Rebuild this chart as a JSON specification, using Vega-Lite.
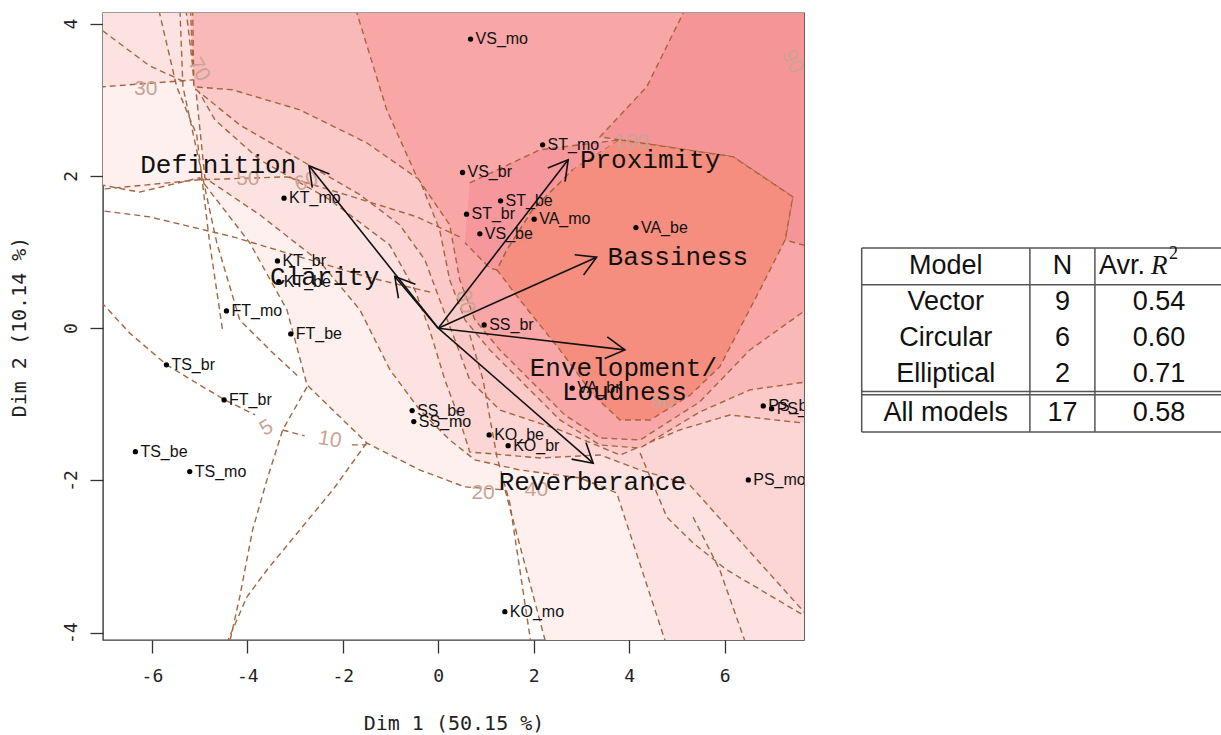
{
 "$schema": "https://vega.github.io/schema/vega-lite/v6.json",
 "width": 701,
 "height": 627,
 "autosize": {"type": "none"},
 "padding": {"left": 103, "top": 13, "right": 417, "bottom": 95},
 "background": "white",
 "config": {"view": {"stroke": "#3a3a3a", "strokeWidth": 1.4}},
 "datasets": {
  "L1": [{"i":0,"x":-7.30,"y":1.909},{"i":1,"x":-6.26,"y":1.787},{"i":2,"x":-5.00,"y":1.975},{"i":3,"x":-3.95,"y":1.121},{"i":4,"x":-3.17,"y":0.240},{"i":5,"x":-2.75,"y":-0.745},{"i":6,"x":-1.50,"y":-1.507},{"i":7,"x":-0.39,"y":-1.862},{"i":8,"x":0.56,"y":-2.085},{"i":9,"x":1.40,"y":-2.124},{"i":10,"x":2.32,"y":-4.29},{"i":11,"x":8.1,"y":-4.4},{"i":12,"x":8.1,"y":4.4},{"i":13,"x":-7.4,"y":4.4}],
  "L2": [{"i":0,"x":-7.30,"y":3.157},{"i":1,"x":-5.10,"y":3.263},{"i":2,"x":-4.89,"y":1.975},{"i":3,"x":-3.74,"y":1.489},{"i":4,"x":-2.48,"y":0.871},{"i":5,"x":-1.64,"y":0.240},{"i":6,"x":-1.01,"y":-0.548},{"i":7,"x":-0.39,"y":-1.073},{"i":8,"x":0.24,"y":-1.468},{"i":9,"x":0.77,"y":-1.731},{"i":10,"x":1.71,"y":-1.862},{"i":11,"x":2.97,"y":-1.967},{"i":12,"x":3.74,"y":-2.164},{"i":13,"x":4.85,"y":-4.29},{"i":14,"x":8.1,"y":-4.4},{"i":15,"x":8.1,"y":4.4},{"i":16,"x":-7.4,"y":4.4}],
  "L3": [{"i":0,"x":-5.31,"y":4.314},{"i":1,"x":-5.10,"y":3.197},{"i":2,"x":-4.68,"y":2.737},{"i":3,"x":-3.74,"y":2.212},{"i":4,"x":-2.27,"y":1.686},{"i":5,"x":-1.02,"y":1.095},{"i":6,"x":-0.49,"y":0.503},{"i":7,"x":-0.18,"y":-0.022},{"i":8,"x":0.14,"y":-0.681},{"i":9,"x":0.45,"y":-1.206},{"i":10,"x":0.66,"y":-1.626},{"i":11,"x":2.13,"y":-1.705},{"i":12,"x":3.39,"y":-1.665},{"i":13,"x":4.23,"y":-1.862},{"i":14,"x":5.27,"y":-2.059},{"i":15,"x":8.0,"y":-3.96},{"i":16,"x":8.1,"y":4.4}],
  "L4": [{"i":0,"x":-5.20,"y":4.314},{"i":1,"x":-5.12,"y":3.157},{"i":2,"x":-4.16,"y":2.671},{"i":3,"x":-2.90,"y":2.212},{"i":4,"x":-1.64,"y":1.752},{"i":5,"x":-0.81,"y":1.358},{"i":6,"x":-0.28,"y":0.898},{"i":7,"x":0.03,"y":0.372},{"i":8,"x":0.35,"y":-0.154},{"i":9,"x":0.66,"y":-0.680},{"i":10,"x":1.29,"y":-1.075},{"i":11,"x":2.55,"y":-1.338},{"i":12,"x":3.81,"y":-1.666},{"i":13,"x":5.06,"y":-1.337},{"i":14,"x":6.11,"y":-1.140},{"i":15,"x":8.0,"y":-1.27},{"i":16,"x":8.1,"y":4.4}],
  "L5": [{"i":0,"x":-5.15,"y":4.314},{"i":1,"x":-5.12,"y":3.171},{"i":2,"x":-4.31,"y":3.131},{"i":3,"x":-2.90,"y":2.868},{"i":4,"x":-1.50,"y":2.435},{"i":5,"x":-0.39,"y":1.949},{"i":6,"x":0.03,"y":1.292},{"i":7,"x":0.24,"y":0.635},{"i":8,"x":0.56,"y":0.109},{"i":9,"x":1.08,"y":-0.285},{"i":10,"x":1.71,"y":-0.679},{"i":11,"x":2.55,"y":-1.205},{"i":12,"x":3.39,"y":-1.535},{"i":13,"x":4.23,"y":-1.574},{"i":14,"x":5.48,"y":-1.101},{"i":15,"x":6.53,"y":-0.811},{"i":16,"x":8.0,"y":-0.68},{"i":17,"x":8.1,"y":4.4}],
  "L6": [{"i":0,"x":-1.79,"y":4.314},{"i":1,"x":-1.08,"y":2.868},{"i":2,"x":-0.45,"y":1.988},{"i":3,"x":0.24,"y":1.357},{"i":4,"x":0.45,"y":0.635},{"i":5,"x":0.77,"y":0.109},{"i":6,"x":1.29,"y":-0.285},{"i":7,"x":1.92,"y":-0.679},{"i":8,"x":2.65,"y":-1.139},{"i":9,"x":3.39,"y":-1.442},{"i":10,"x":4.23,"y":-1.469},{"i":11,"x":5.48,"y":-0.968},{"i":12,"x":6.53,"y":-0.286},{"i":13,"x":8.0,"y":0.372},{"i":14,"x":8.1,"y":4.4}],
  "TR": [{"i":0,"x":5.27,"y":4.314},{"i":1,"x":4.37,"y":3.171},{"i":2,"x":3.39,"y":2.514},{"i":3,"x":3.81,"y":2.474},{"i":4,"x":6.18,"y":2.251},{"i":5,"x":7.43,"y":1.725},{"i":6,"x":7.27,"y":1.160},{"i":7,"x":8.0,"y":1.029},{"i":8,"x":8.1,"y":4.4}],
  "ST": [{"i":0,"x":0.66,"y":1.909},{"i":1,"x":2.13,"y":2.343},{"i":2,"x":3.81,"y":2.474},{"i":3,"x":2.82,"y":2.081},{"i":4,"x":1.98,"y":1.555},{"i":5,"x":1.44,"y":1.029},{"i":6,"x":1.23,"y":0.766},{"i":7,"x":1.08,"y":0.790},{"i":8,"x":0.56,"y":1.121}],
  "SAL": [{"i":0,"x":3.81,"y":2.474},{"i":1,"x":6.18,"y":2.251},{"i":2,"x":7.43,"y":1.725},{"i":3,"x":7.27,"y":1.160},{"i":4,"x":6.74,"y":0.503},{"i":5,"x":5.90,"y":-0.508},{"i":6,"x":5.27,"y":-0.883},{"i":7,"x":4.44,"y":-1.207},{"i":8,"x":3.81,"y":-1.207},{"i":9,"x":3.25,"y":-0.877},{"i":10,"x":2.55,"y":-0.285},{"i":11,"x":1.71,"y":0.372},{"i":12,"x":1.23,"y":0.766},{"i":13,"x":1.44,"y":1.029},{"i":14,"x":1.98,"y":1.555},{"i":15,"x":2.82,"y":2.081}],
  "dl": [
   {"g":"d1","i":0,"x":-7.20,"y":3.986},{"g":"d1","i":1,"x":-6.05,"y":3.446},{"g":"d1","i":2,"x":-5.27,"y":3.223},
   {"g":"d2","i":0,"x":-5.90,"y":4.3},{"g":"d2","i":1,"x":-5.48,"y":3.170},{"g":"d2","i":2,"x":-5.06,"y":2.534},{"g":"d2","i":3,"x":-4.79,"y":1.121},{"g":"d2","i":4,"x":-4.52,"y":-0.022},
   {"g":"d3","i":0,"x":-5.42,"y":4.3},{"g":"d3","i":1,"x":-5.35,"y":3.170},{"g":"d3","i":2,"x":-4.94,"y":1.988},{"g":"d3","i":3,"x":-4.64,"y":1.121},{"g":"d3","i":4,"x":-4.16,"y":0.109},{"g":"d3","i":5,"x":-3.53,"y":-0.286},{"g":"d3","i":6,"x":-2.90,"y":-0.654},
   {"g":"d4","i":0,"x":-7.20,"y":1.555},{"g":"d4","i":1,"x":-6.05,"y":1.462},{"g":"d4","i":2,"x":-4.30,"y":1.200},{"g":"d4","i":3,"x":-2.90,"y":0.937},{"g":"d4","i":4,"x":-1.50,"y":0.674},{"g":"d4","i":5,"x":-0.11,"y":0.464},
   {"g":"d5","i":0,"x":-7.20,"y":0.438},{"g":"d5","i":1,"x":-6.47,"y":-0.062},{"g":"d5","i":2,"x":-5.69,"y":-0.482},{"g":"d5","i":3,"x":-5.00,"y":-0.745},{"g":"d5","i":4,"x":-4.47,"y":-0.942},{"g":"d5","i":5,"x":-3.84,"y":-1.139},
   {"g":"d6","i":0,"x":-7.20,"y":1.817},{"g":"d6","i":1,"x":-5.00,"y":1.949},{"g":"d6","i":2,"x":-3.17,"y":1.988},{"g":"d6","i":3,"x":-1.79,"y":1.725},{"g":"d6","i":4,"x":-0.45,"y":1.463},{"g":"d6","i":5,"x":0.45,"y":1.200},
   {"g":"d7","i":0,"x":-3.26,"y":-1.337},{"g":"d7","i":1,"x":-2.80,"y":-1.415},
   {"g":"d8","i":0,"x":-1.81,"y":-1.533},{"g":"d8","i":1,"x":-1.50,"y":-1.533},
   {"g":"d9","i":0,"x":-2.75,"y":-0.771},{"g":"d9","i":1,"x":-3.26,"y":-1.337},{"g":"d9","i":2,"x":-3.59,"y":-1.993},{"g":"d9","i":3,"x":-3.89,"y":-2.650},{"g":"d9","i":4,"x":-4.16,"y":-3.531},{"g":"d9","i":5,"x":-4.43,"y":-4.293},
   {"g":"d10","i":0,"x":-1.50,"y":-1.507},{"g":"d10","i":1,"x":-2.21,"y":-2.125},{"g":"d10","i":2,"x":-2.90,"y":-2.650},{"g":"d10","i":3,"x":-3.59,"y":-3.176},{"g":"d10","i":4,"x":-4.01,"y":-3.531},{"g":"d10","i":5,"x":-4.54,"y":-4.293},
   {"g":"d11","i":0,"x":0.66,"y":-0.088},{"g":"d11","i":1,"x":0.94,"y":-0.680},{"g":"d11","i":2,"x":1.23,"y":-1.692},{"g":"d11","i":3,"x":1.50,"y":-2.297},{"g":"d11","i":4,"x":1.98,"y":-4.293},
   {"g":"d12","i":0,"x":5.34,"y":-2.480},{"g":"d12","i":1,"x":5.90,"y":-3.176},{"g":"d12","i":2,"x":6.53,"y":-4.293},
   {"g":"d13","i":0,"x":4.23,"y":-1.639},{"g":"d13","i":1,"x":4.79,"y":-2.480},{"g":"d13","i":2,"x":5.34,"y":-2.821},{"g":"d13","i":3,"x":6.05,"y":-3.176},{"g":"d13","i":4,"x":8.0,"y":-3.899}
  ],
  "pts": [{"n":"VS_mo","x":0.677,"y":3.798},{"n":"ST_mo","x":2.187,"y":2.409},{"n":"VS_br","x":0.509,"y":2.045},{"n":"ST_be","x":1.306,"y":1.673},{"n":"ST_br","x":0.593,"y":1.498},{"n":"VA_mo","x":2.010,"y":1.432},{"n":"VS_be","x":0.872,"y":1.239},{"n":"VA_be","x":4.143,"y":1.322},{"n":"SS_br","x":0.962,"y":0.043},{"n":"KT_mo","x":-3.231,"y":1.708},{"n":"KT_br","x":-3.369,"y":0.884},{"n":"KT_be","x":-3.342,"y":0.612},{"n":"FT_mo","x":-4.438,"y":0.227},{"n":"FT_be","x":-3.090,"y":-0.075},{"n":"TS_br","x":-5.696,"y":-0.482},{"n":"FT_br","x":-4.488,"y":-0.942},{"n":"TS_be","x":-6.346,"y":-1.622},{"n":"TS_mo","x":-5.208,"y":-1.884},{"n":"SS_be","x":-0.547,"y":-1.083},{"n":"SS_mo","x":-0.512,"y":-1.227},{"n":"KO_be","x":1.067,"y":-1.402},{"n":"KO_br","x":1.465,"y":-1.543},{"n":"VA_br","x":2.807,"y":-0.788},{"n":"PS_be","x":6.811,"y":-1.021},{"n":"PS_br","x":6.987,"y":-1.057},{"n":"PS_mo","x":6.497,"y":-1.993},{"n":"KO_mo","x":1.396,"y":-3.724}],
  "vec": [{"v":"Definition","x":-2.707,"y":2.133},{"v":"Clarity","x":-0.910,"y":0.678},{"v":"Proximity","x":2.723,"y":2.212},{"v":"Bassiness","x":3.319,"y":0.933},{"v":"Envelopment","x":3.912,"y":-0.285},{"v":"Reverberance","x":3.247,"y":-1.774}],
  "heads": [
   {"v":"Definition","i":0,"x":-2.639,"y":1.846},{"v":"Definition","i":1,"x":-2.707,"y":2.133},{"v":"Definition","i":2,"x":-2.279,"y":2.026},
   {"v":"Clarity","i":0,"x":-0.834,"y":0.393},{"v":"Clarity","i":1,"x":-0.910,"y":0.678},{"v":"Clarity","i":2,"x":-0.478,"y":0.576},
   {"v":"Proximity","i":0,"x":2.296,"y":2.104},{"v":"Proximity","i":1,"x":2.723,"y":2.212},{"v":"Proximity","i":2,"x":2.658,"y":1.925},
   {"v":"Bassiness","i":0,"x":2.860,"y":0.964},{"v":"Bassiness","i":1,"x":3.319,"y":0.933},{"v":"Bassiness","i":2,"x":3.046,"y":0.699},
   {"v":"Envelopment","i":0,"x":3.543,"y":-0.113},{"v":"Envelopment","i":1,"x":3.912,"y":-0.285},{"v":"Envelopment","i":2,"x":3.488,"y":-0.399},
   {"v":"Reverberance","i":0,"x":3.096,"y":-1.501},{"v":"Reverberance","i":1,"x":3.247,"y":-1.774},{"v":"Reverberance","i":2,"x":2.795,"y":-1.720}
  ],
  "vlab": [{"t":"Definition","x":-4.61,"y":2.146},{"t":"Clarity","x":-2.38,"y":0.674},{"t":"Proximity","x":4.44,"y":2.212},{"t":"Bassiness","x":5.02,"y":0.937},{"t":"Envelopment/","x":3.88,"y":-0.522},{"t":"Loudness","x":3.90,"y":-0.837},{"t":"Reverberance","x":3.23,"y":-2.02}],
  "clab": [{"t":"30","x":-6.13,"y":3.144},{"t":"50","x":-3.99,"y":1.962},{"t":"90","x":4.71,"y":-0.968},{"t":"100","x":4.05,"y":2.452},{"t":"20","x":0.94,"y":-2.168},{"t":"40","x":2.06,"y":-2.125}],
  "cells": [{"row":0,"col":0,"t":"Model"},{"row":0,"col":1,"t":"N"},{"row":1,"col":0,"t":"Vector"},{"row":1,"col":1,"t":"9"},{"row":1,"col":2,"t":"0.54"},{"row":2,"col":0,"t":"Circular"},{"row":2,"col":1,"t":"6"},{"row":2,"col":2,"t":"0.60"},{"row":3,"col":0,"t":"Elliptical"},{"row":3,"col":1,"t":"2"},{"row":3,"col":2,"t":"0.71"},{"row":4,"col":0,"t":"All models"},{"row":4,"col":1,"t":"17"},{"row":4,"col":2,"t":"0.58"}]
 },
 "layer": [
  {
   "layer": [
    {"data": {"name": "L1"}, "mark": {"type": "line", "fill": "#fdf0ef", "stroke": "#a4653f", "strokeWidth": 1.4, "strokeDash": [6, 4], "clip": true},
     "encoding": {
      "x": {"field": "x", "type": "quantitative", "scale": {"domain": [-7.025, 7.665], "nice": false, "zero": false},
            "axis": {"values": [-6, -4, -2, 0, 2, 4, 6], "labelExpr": "datum.value + ''", "title": "Dim 1 (50.15 %)", "domain": false, "grid": false, "tickSize": 13, "tickColor": "#333", "tickWidth": 1.3, "labelFont": "DejaVu Sans Mono", "labelFontSize": 18, "labelColor": "#222", "labelPadding": 14, "titleFont": "DejaVu Sans Mono", "titleFontSize": 20, "titleFontWeight": "normal", "titleColor": "#222", "titlePadding": 28}},
      "y": {"field": "y", "type": "quantitative", "scale": {"domain": [-4.096, 4.14], "nice": false, "zero": false},
            "axis": {"values": [-4, -2, 0, 2, 4], "labelExpr": "datum.value + ''", "title": "Dim 2 (10.14 %)", "domain": false, "grid": false, "tickSize": 13, "tickColor": "#333", "tickWidth": 1.3, "labelAngle": -90, "labelFont": "DejaVu Sans Mono", "labelFontSize": 18, "labelColor": "#222", "labelPadding": 10, "titleFont": "DejaVu Sans Mono", "titleFontSize": 20, "titleFontWeight": "normal", "titleColor": "#222", "titlePadding": 33}},
      "order": {"field": "i", "type": "quantitative"}}},
    {"data": {"name": "L2"}, "mark": {"type": "line", "fill": "#fce3e2", "stroke": "#a4653f", "strokeWidth": 1.4, "strokeDash": [6, 4], "clip": true},
     "encoding": {"x": {"field": "x", "type": "quantitative"}, "y": {"field": "y", "type": "quantitative"}, "order": {"field": "i", "type": "quantitative"}}},
    {"data": {"name": "L3"}, "mark": {"type": "line", "fill": "#fbd6d5", "stroke": "#a4653f", "strokeWidth": 1.4, "strokeDash": [6, 4], "clip": true},
     "encoding": {"x": {"field": "x", "type": "quantitative"}, "y": {"field": "y", "type": "quantitative"}, "order": {"field": "i", "type": "quantitative"}}},
    {"data": {"name": "L4"}, "mark": {"type": "line", "fill": "#fac9c8", "stroke": "#a4653f", "strokeWidth": 1.4, "strokeDash": [6, 4], "clip": true},
     "encoding": {"x": {"field": "x", "type": "quantitative"}, "y": {"field": "y", "type": "quantitative"}, "order": {"field": "i", "type": "quantitative"}}},
    {"data": {"name": "L5"}, "mark": {"type": "line", "fill": "#f9b9b9", "stroke": "#a4653f", "strokeWidth": 1.4, "strokeDash": [6, 4], "clip": true},
     "encoding": {"x": {"field": "x", "type": "quantitative"}, "y": {"field": "y", "type": "quantitative"}, "order": {"field": "i", "type": "quantitative"}}},
    {"data": {"name": "L6"}, "mark": {"type": "line", "fill": "#f8a6a6", "stroke": "#a4653f", "strokeWidth": 1.4, "strokeDash": [6, 4], "clip": true},
     "encoding": {"x": {"field": "x", "type": "quantitative"}, "y": {"field": "y", "type": "quantitative"}, "order": {"field": "i", "type": "quantitative"}}},
    {"data": {"name": "TR"}, "mark": {"type": "line", "fill": "#f69597", "stroke": "#a4653f", "strokeWidth": 1.4, "strokeDash": [6, 4], "clip": true},
     "encoding": {"x": {"field": "x", "type": "quantitative"}, "y": {"field": "y", "type": "quantitative"}, "order": {"field": "i", "type": "quantitative"}}},
    {"data": {"name": "ST"}, "mark": {"type": "line", "fill": "#f6979b", "stroke": "#a4653f", "strokeWidth": 1.4, "strokeDash": [6, 4], "clip": true},
     "encoding": {"x": {"field": "x", "type": "quantitative"}, "y": {"field": "y", "type": "quantitative"}, "order": {"field": "i", "type": "quantitative"}}},
    {"data": {"name": "SAL"}, "mark": {"type": "line", "fill": "#f68e80", "stroke": "#a4653f", "strokeWidth": 1.4, "strokeDash": [6, 4], "clip": true},
     "encoding": {"x": {"field": "x", "type": "quantitative"}, "y": {"field": "y", "type": "quantitative"}, "order": {"field": "i", "type": "quantitative"}}},
    {"data": {"name": "dl"}, "mark": {"type": "line", "stroke": "#a4653f", "strokeWidth": 1.4, "strokeDash": [6, 4], "clip": true},
     "encoding": {"x": {"field": "x", "type": "quantitative"}, "y": {"field": "y", "type": "quantitative"}, "detail": {"field": "g"}, "order": {"field": "i", "type": "quantitative"}}},
    {"data": {"name": "clab"}, "mark": {"type": "text", "font": "Liberation Sans", "fontSize": 21, "color": "#caa395", "align": "center", "baseline": "middle", "clip": true},
     "encoding": {"x": {"field": "x", "type": "quantitative"}, "y": {"field": "y", "type": "quantitative"}, "text": {"field": "t"}}},
    {"data": {"values": [{"t": "60", "x": -2.76, "y": 1.922}]}, "mark": {"type": "text", "font": "Liberation Sans", "fontSize": 21, "color": "#caa395", "angle": -20, "align": "center", "baseline": "middle", "clip": true},
     "encoding": {"x": {"field": "x", "type": "quantitative"}, "y": {"field": "y", "type": "quantitative"}, "text": {"field": "t"}}},
    {"data": {"values": [{"t": "70", "x": -5.02, "y": 3.394}]}, "mark": {"type": "text", "font": "Liberation Sans", "fontSize": 21, "color": "#caa395", "angle": 60, "align": "center", "baseline": "middle", "clip": true},
     "encoding": {"x": {"field": "x", "type": "quantitative"}, "y": {"field": "y", "type": "quantitative"}, "text": {"field": "t"}}},
    {"data": {"values": [{"t": "80", "x": 0.56, "y": 0.346}]}, "mark": {"type": "text", "font": "Liberation Sans", "fontSize": 21, "color": "#caa395", "angle": 75, "align": "center", "baseline": "middle", "clip": true},
     "encoding": {"x": {"field": "x", "type": "quantitative"}, "y": {"field": "y", "type": "quantitative"}, "text": {"field": "t"}}},
    {"data": {"values": [{"t": "90", "x": 7.41, "y": 3.499}]}, "mark": {"type": "text", "font": "Liberation Sans", "fontSize": 21, "color": "#caa395", "angle": 65, "align": "center", "baseline": "middle", "clip": true},
     "encoding": {"x": {"field": "x", "type": "quantitative"}, "y": {"field": "y", "type": "quantitative"}, "text": {"field": "t"}}},
    {"data": {"values": [{"t": "5", "x": -3.60, "y": -1.314}]}, "mark": {"type": "text", "font": "Liberation Sans", "fontSize": 21, "color": "#caa395", "angle": -30, "align": "center", "baseline": "middle", "clip": true},
     "encoding": {"x": {"field": "x", "type": "quantitative"}, "y": {"field": "y", "type": "quantitative"}, "text": {"field": "t"}}},
    {"data": {"values": [{"t": "10", "x": -2.27, "y": -1.468}]}, "mark": {"type": "text", "font": "Liberation Sans", "fontSize": 21, "color": "#caa395", "angle": 10, "align": "center", "baseline": "middle", "clip": true},
     "encoding": {"x": {"field": "x", "type": "quantitative"}, "y": {"field": "y", "type": "quantitative"}, "text": {"field": "t"}}},
    {"data": {"name": "pts"}, "mark": {"type": "circle", "size": 28, "color": "#000", "opacity": 1, "clip": true},
     "encoding": {"x": {"field": "x", "type": "quantitative"}, "y": {"field": "y", "type": "quantitative"}}},
    {"data": {"name": "pts"}, "mark": {"type": "text", "font": "Liberation Sans", "fontSize": 16, "color": "#111", "align": "left", "baseline": "middle", "dx": 5, "clip": true},
     "encoding": {"x": {"field": "x", "type": "quantitative"}, "y": {"field": "y", "type": "quantitative"}, "text": {"field": "n"}}},
    {"data": {"name": "vec"}, "mark": {"type": "rule", "color": "#111", "strokeWidth": 1.6, "clip": true},
     "encoding": {"x": {"field": "x", "type": "quantitative"}, "y": {"field": "y", "type": "quantitative"}, "x2": {"datum": 0}, "y2": {"datum": 0}}},
    {"data": {"name": "heads"}, "mark": {"type": "line", "color": "#111", "strokeWidth": 1.6, "clip": true},
     "encoding": {"x": {"field": "x", "type": "quantitative"}, "y": {"field": "y", "type": "quantitative"}, "detail": {"field": "v"}, "order": {"field": "i", "type": "quantitative"}}},
    {"data": {"name": "vlab"}, "mark": {"type": "text", "font": "Liberation Mono", "fontSize": 26, "color": "#111", "align": "center", "baseline": "middle", "clip": true},
     "encoding": {"x": {"field": "x", "type": "quantitative"}, "y": {"field": "y", "type": "quantitative"}, "text": {"field": "t"}}}
   ]
  },
  {
   "layer": [
    {"data": {"values": [{"r": 0}, {"r": 1}, {"r": 5}]}, "mark": {"type": "rule", "color": "#555", "strokeWidth": 1.5},
     "encoding": {"y": {"field": "r", "type": "quantitative", "scale": {"domain": [0, 1, 2, 3, 4, 5], "range": [235, 271.7, 307.2, 342.7, 380, 419], "nice": false, "zero": false}, "axis": null},
                  "x": {"datum": 0, "type": "quantitative", "scale": {"domain": [0, 1, 2, 3], "range": [758.7, 926.9, 991.9, 1120], "nice": false, "zero": false}, "axis": null},
                  "x2": {"datum": 3}}},
    {"data": {"values": [{"r": 4}]}, "mark": {"type": "rule", "color": "#555", "strokeWidth": 1.5, "yOffset": -1.6},
     "encoding": {"y": {"field": "r", "type": "quantitative", "axis": null}, "x": {"datum": 0, "type": "quantitative", "axis": null}, "x2": {"datum": 3}}},
    {"data": {"values": [{"r": 4}]}, "mark": {"type": "rule", "color": "#555", "strokeWidth": 1.5, "yOffset": 1.7},
     "encoding": {"y": {"field": "r", "type": "quantitative", "axis": null}, "x": {"datum": 0, "type": "quantitative", "axis": null}, "x2": {"datum": 3}}},
    {"data": {"values": [{"c": 0}, {"c": 1}, {"c": 2}]}, "mark": {"type": "rule", "color": "#555", "strokeWidth": 1.5},
     "encoding": {"x": {"field": "c", "type": "quantitative", "axis": null}, "y": {"datum": 0, "type": "quantitative", "axis": null}, "y2": {"datum": 5}}},
    {"data": {"name": "cells"}, "transform": [{"calculate": "datum.col + 0.5", "as": "xm"}, {"calculate": "datum.row + 0.5", "as": "ym"}],
     "mark": {"type": "text", "font": "Liberation Sans", "fontSize": 27, "color": "#111", "align": "center", "baseline": "middle"},
     "encoding": {"x": {"field": "xm", "type": "quantitative", "axis": null}, "y": {"field": "ym", "type": "quantitative", "axis": null}, "text": {"field": "t"}}},
    {"data": {"values": [{"t": "Avr.", "xm": 2.5, "ym": 0.5}]}, "mark": {"type": "text", "font": "Liberation Sans", "fontSize": 27, "color": "#111", "align": "right", "baseline": "middle", "dx": -14},
     "encoding": {"x": {"field": "xm", "type": "quantitative", "axis": null}, "y": {"field": "ym", "type": "quantitative", "axis": null}, "text": {"field": "t"}}},
    {"data": {"values": [{"t": "R", "xm": 2.5, "ym": 0.5}]}, "mark": {"type": "text", "font": "Liberation Serif", "fontStyle": "italic", "fontSize": 27, "color": "#111", "align": "left", "baseline": "middle", "dx": -8},
     "encoding": {"x": {"field": "xm", "type": "quantitative", "axis": null}, "y": {"field": "ym", "type": "quantitative", "axis": null}, "text": {"field": "t"}}},
    {"data": {"values": [{"t": "2", "xm": 2.5, "ym": 0.5}]}, "mark": {"type": "text", "font": "Liberation Serif", "fontSize": 18, "color": "#111", "align": "left", "baseline": "middle", "dx": 10, "dy": -12},
     "encoding": {"x": {"field": "xm", "type": "quantitative", "axis": null}, "y": {"field": "ym", "type": "quantitative", "axis": null}, "text": {"field": "t"}}}
   ]
  }
 ],
 "resolve": {"scale": {"x": "independent", "y": "independent"}}
}
